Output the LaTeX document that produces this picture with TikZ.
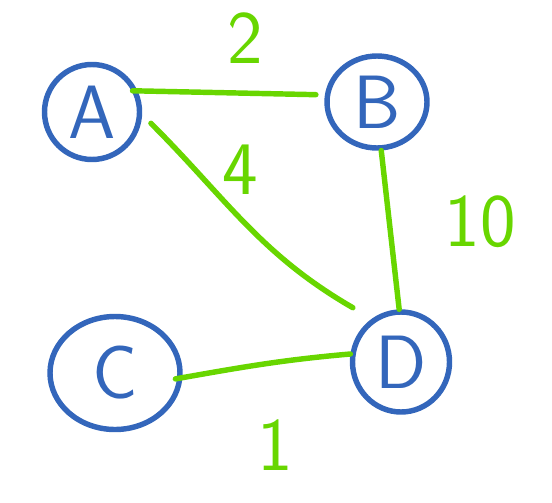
\documentclass[tikz,border=0pt]{standalone}
\usepackage{tikz}
\usetikzlibrary{
  shapes.geometric,
  positioning,
  calc
}
\definecolor{nodeblue}{RGB}{51,102,187}
\definecolor{edgegreen}{RGB}{104,214,0}
\newcommand{\handfont}{\fontsize{43}{45}\selectfont\sffamily}
\tikzset{%
  vertex/.style={ellipse, draw=nodeblue, line width=3.1pt, text=nodeblue,
    font=\handfont, inner sep=0pt}, % the hand drawn circles
  weight/.style={text=edgegreen, font=\handfont},
  every edge/.style={%
    draw=edgegreen, line width=3.1pt, line cap=round
  }
}

\begin{document}
\begin{tikzpicture}
  \useasboundingbox (0,0) rectangle (11.04,10.04);
  % vertices
  \node [vertex, minimum width=1.9cm, minimum height=1.9cm] (A) at (1.84,7.80) {A};
  \node [vertex, minimum width=2.0cm, minimum height=1.84cm] (B) at (7.54,8.00) {B};
  \node [vertex, minimum width=2.6cm, minimum height=2.26cm] (C) at (2.30,2.58) {C};
  \node [vertex, minimum width=1.94cm, minimum height=2.0cm] (D) at (8.02,2.80) {D};
  % edges
  \path ([xshift=-0.1cm]A.25) edge ([xshift=-0.18cm]B.172)
        ([xshift=0.2cm]A.-13) edge [out=-45, in=150] ([shift={(-0.28,0.3)}]D.131)
        (B.-85) edge (D.92)
        ([xshift=-0.14cm]C.-5) edge [out=10, in=185] (D.171);
  % weights
  \node [weight] (wab) at (4.90,9.28) {2};
  \node [weight] (wad) at (4.80,6.64) {4};
  \node [weight] (wbd) at (9.60,5.60) {10};
  \node [weight] (wcd) at (5.50,1.14) {1};
\end{tikzpicture}
\end{document}
